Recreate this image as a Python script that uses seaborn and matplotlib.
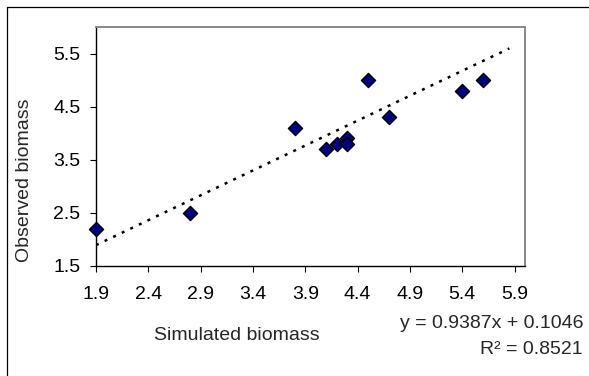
import matplotlib
matplotlib.use("Agg")
import matplotlib.pyplot as plt
import seaborn as sns
import numpy as np
import pandas as pd
from matplotlib.lines import Line2D

# ---- data ----
simulated = [1.9, 2.8, 3.8, 4.1, 4.2, 4.3, 4.3, 4.5, 4.7, 5.4, 5.6]
observed = [2.2, 2.5, 4.1, 3.7, 3.8, 3.9, 3.8, 5.0, 4.3, 4.8, 5.0]
slope = 0.9387
intercept = 0.1046
r_squared = 0.8521
trend_x = [1.9, 5.85]
x_ticks = [1.9, 2.4, 2.9, 3.4, 3.9, 4.4, 4.9, 5.4, 5.9]
y_ticks = [1.5, 2.5, 3.5, 4.5, 5.5]

df = pd.DataFrame({"Simulated biomass": simulated, "Observed biomass": observed})

sns.set_style("white")
plt.rcParams["font.family"] = ["Liberation Sans", "DejaVu Sans"]

W, H = 589, 376
fig = plt.figure(figsize=(W / 100, H / 100), dpi=100)
fig.patch.set_facecolor("white")

left, right, top, bottom = 96, 525, 27, 265.7
ax = fig.add_axes([left / W, 1 - bottom / H, (right - left) / W, (bottom - top) / H])

# trendline
tx = np.array(trend_x)
ty = slope * tx + intercept
ax.plot(tx, ty, color="black", lw=1.8, linestyle=(0, (1.2, 2.6)), zorder=2)

sns.scatterplot(data=df, x="Simulated biomass", y="Observed biomass", ax=ax,
                marker="D", s=52, color="#000080", edgecolor="black",
                linewidth=1.0, zorder=3, clip_on=False)

ax.set_xlim(1.9, 6.0)
ax.set_ylim(1.5, 6.0)
ax.set_xticks(x_ticks)
ax.set_xticklabels([f"{v:.1f}" for v in x_ticks])
ax.set_yticks(y_ticks)
ax.set_yticklabels([f"{v:.1f}" for v in y_ticks])
ax.tick_params(axis="both", which="both", direction="out", length=4.3, width=0.8,
               color="black", labelsize=14, labelcolor="black")
ax.tick_params(axis="x", pad=10, bottom=True)
ax.tick_params(axis="y", pad=7, left=True)

for s in ["left", "bottom"]:
    ax.spines[s].set_color("black")
    ax.spines[s].set_linewidth(1.0)
for s in ["top", "right"]:
    ax.spines[s].set_color("#888888")
    ax.spines[s].set_linewidth(1.4)
ax.grid(False)

ax.set_xlabel("Simulated biomass", fontsize=14)
ax.xaxis.label.set_va("center")
ax.xaxis.set_label_coords((237 - left) / (right - left), (bottom - 335) / (bottom - top))
ax.set_ylabel("Observed biomass", fontsize=14)
ax.yaxis.label.set_va("center")
ax.yaxis.label.set_ha("center")
ax.yaxis.set_label_coords((25 - left) / (right - left), (bottom - 180) / (bottom - top))

fig.text(583 / W, 1 - 323 / H, f"y = {slope:.4f}x + {intercept:.4f}", ha="right", va="center",
         fontsize=14)
fig.text(583 / W, 1 - 350 / H, f"R² = {r_squared:.4f}", ha="right", va="center", fontsize=14)

# chart-area frame (left and top edges visible)
fig.add_artist(Line2D([7 / W, 7 / W], [0, 1 - 7 / H], color="black", lw=0.9,
                      transform=fig.transFigure))
fig.add_artist(Line2D([7 / W, 1], [1 - 7 / H, 1 - 7 / H], color="black", lw=0.9,
                      transform=fig.transFigure))

fig.savefig("out.png", dpi=100, facecolor="white")
